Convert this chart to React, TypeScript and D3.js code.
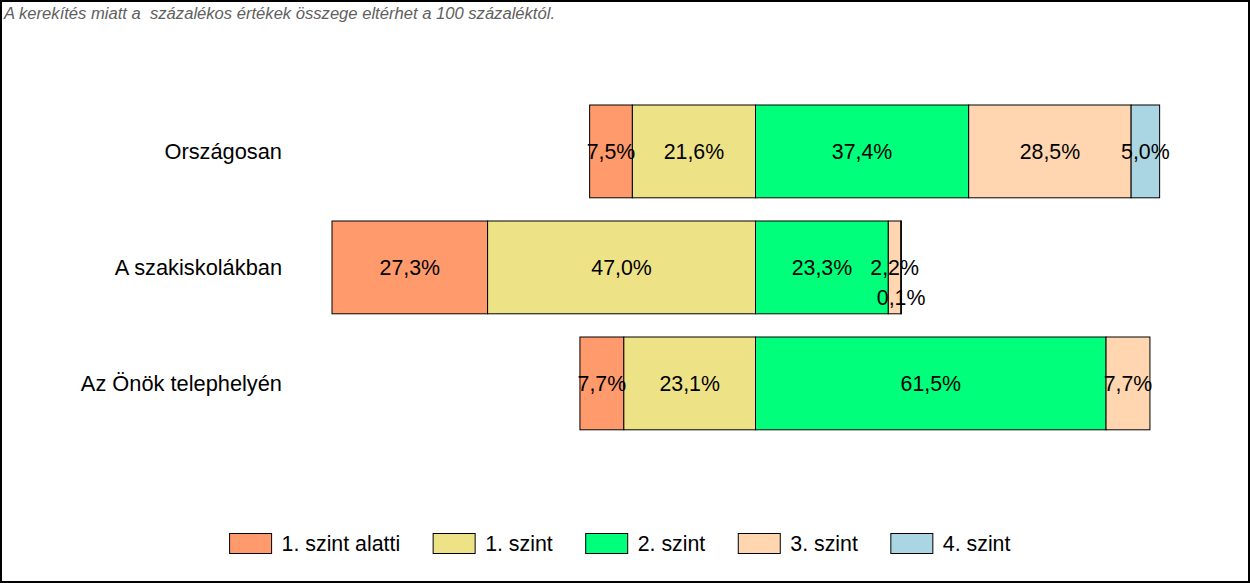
import React from "react";
import * as d3 from "d3";

const categories = ["Országosan", "A szakiskolákban", "Az Önök telephelyén"];
const seriesNames = ["1. szint alatti", "1. szint", "2. szint", "3. szint", "4. szint"];
const belowLevel1 = [7.5, 27.3, 7.7];
const level1 = [21.6, 47.0, 23.1];
const level2 = [37.4, 23.3, 61.5];
const level3 = [28.5, 2.2, 7.7];
const level4 = [5.0, 0.1, 0];
const seriesColors = ["#FF9A6C", "#EEE287", "#00FF7A", "#FFD6B0", "#AAD5E3"];
const note = "A kerekítés miatt a  százalékos értékek összege eltérhet a 100 százaléktól.";

const W = 1250;
const H = 583;
const FONT = "'Liberation Sans', Arial, sans-serif";
const FS = 21.33;

let ctx: CanvasRenderingContext2D | null = null;
function textWidth(t: string, size = FS) {
  if (!ctx) {
    const c = document.createElement("canvas");
    ctx = c.getContext("2d");
  }
  if (!ctx) return t.length * size * 0.5;
  ctx.font = `${size}px 'Liberation Sans', Arial, sans-serif`;
  return ctx.measureText(t).width;
}
const fmt = (v: number) => d3.format(".1f")(v).replace(".", ",") + "%";

export default function App() {
  const series = [belowLevel1, level1, level2, level3, level4];
  const x = d3.scaleLinear().domain([-80, 80]).range([299.5, 1211.5]);
  const y = d3.scaleBand<string>().domain(categories).range([93.4, 441.4]).paddingInner(0.2).paddingOuter(0.1);

  const bars: React.ReactNode[] = [];
  const labels: React.ReactNode[] = [];
  categories.forEach((cat, ci) => {
    const v = series.map((s) => s[ci]);
    const segs: { i: number; a: number; b: number }[] = [];
    segs.push({ i: 0, a: -(v[0] + v[1]), b: -v[1] });
    segs.push({ i: 1, a: -v[1], b: 0 });
    let acc = 0;
    for (let i = 2; i < 5; i++) {
      segs.push({ i, a: acc, b: acc + v[i] });
      acc += v[i];
    }
    const y0 = y(cat)!;
    const bw = y.bandwidth();
    const cy = y0 + bw / 2;
    let prev: { cx: number; w: number } | null = null;
    segs.forEach((s) => {
      const val = v[s.i];
      if (val <= 0) return;
      const x0 = x(s.a);
      const x1 = x(s.b);
      bars.push(
        <rect key={`${ci}-${s.i}`} x={x0} y={y0} width={x1 - x0} height={bw}
          fill={seriesColors[s.i]} stroke="#000" strokeWidth={1} />
      );
      const t = fmt(val);
      const cx = (x0 + x1) / 2;
      const w = textWidth(t);
      let dy = 0;
      if (prev && Math.abs(cx - prev.cx) < (w + prev.w) / 2) dy = 30;
      labels.push(
        <text key={`l${ci}-${s.i}`} x={cx} y={cy + dy} dy="0.35em" textAnchor="middle"
          fontSize={FS} fontFamily={FONT} fill="#000">{t}</text>
      );
      prev = { cx, w };
    });
    labels.push(
      <text key={`c${ci}`} x={282} y={cy} dy="0.35em" textAnchor="end"
        fontSize={21.8} fontFamily={FONT} fill="#000">{cat}</text>
    );
  });

  const boxW = 42, boxH = 20, gapText = 10, gapItem = 33;
  const widths = seriesNames.map((n) => boxW + gapText + textWidth(n));
  const total = widths.reduce((a, b) => a + b, 0) + gapItem * (seriesNames.length - 1);
  let lx = 620 - total / 2;
  const legend = seriesNames.map((n, i) => {
    const gx = lx;
    lx += widths[i] + gapItem;
    return (
      <g key={n} transform={`translate(${gx},533.5)`}>
        <rect x={0} y={0} width={boxW} height={boxH} fill={seriesColors[i]} stroke="#000" strokeWidth={1} />
        <text x={boxW + gapText} y={boxH / 2} dy="0.35em" fontSize={FS} fontFamily={FONT} fill="#000">{n}</text>
      </g>
    );
  });

  return (
    <svg width={W} height={H} style={{ position: "absolute", left: 0, top: 0, background: "#fff" }}>
      <rect x={0} y={0} width={W} height={H} fill="#fff" />
      <text x={4} y={19} fontSize={16} fontStyle="italic" fontFamily={FONT} fill="#606060"
        textLength={551} lengthAdjust="spacingAndGlyphs" style={{ whiteSpace: "pre" }}>{note}</text>
      {bars}
      {labels}
      {legend}
      <rect x={1} y={1} width={1248} height={581} fill="none" stroke="#000" strokeWidth={2} />
    </svg>
  );
}
